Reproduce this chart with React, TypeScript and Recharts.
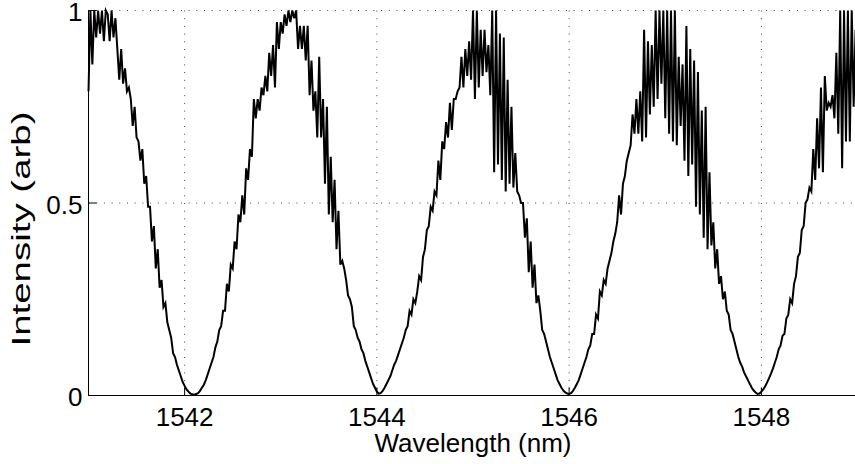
import { LineChart, Line, XAxis, YAxis, CartesianGrid } from "recharts";

// sampled spectrum, one value every 0.02 nm starting at 1541 nm
const WL_START = 1541;
const WL_STEP = 0.02;

const X_TICKS = [1542, 1544, 1546, 1548];
const Y_TICKS = [0, 0.5, 1];

// 1541.00 - 1542.98
const FRINGE_A = [
  0.79, 1.0, 0.86, 1.0, 0.93, 1.0, 0.94, 1.0, 0.92, 1.0, 0.99, 0.92, 1.0, 0.93, 0.98, 0.9,
  0.82, 0.9, 0.81, 0.85, 0.79, 0.8, 0.77, 0.7, 0.75, 0.67, 0.66, 0.61, 0.64, 0.55, 0.57, 0.49,
  0.49, 0.4, 0.44, 0.33, 0.38, 0.28, 0.3, 0.23, 0.24, 0.19, 0.17,
  0.15, 0.11, 0.1, 0.08, 0.065, 0.05, 0.035, 0.025, 0.016, 0.01, 0.005, 0.003, 0.002, 0.004,
  0.006, 0.012, 0.02, 0.028, 0.04, 0.055, 0.07, 0.085, 0.1, 0.125, 0.14, 0.17, 0.18,
  0.22, 0.22, 0.29, 0.27, 0.34, 0.33, 0.4, 0.38, 0.47, 0.45, 0.52, 0.47, 0.59, 0.56, 0.64,
  0.62, 0.77, 0.72, 0.77, 0.74, 0.8, 0.78, 0.83, 0.79, 0.89, 0.83, 0.91, 0.8, 0.97, 0.9,
];

// 1543.00 - 1544.98
const FRINGE_B = [
  0.97, 0.94, 0.99, 0.96, 1.0, 0.97, 1.0, 0.98, 1.0, 0.9, 0.96, 0.9, 0.96, 0.87, 0.96, 0.78,
  0.87, 0.74, 0.79, 0.67, 0.88, 0.67, 0.77, 0.55, 0.75, 0.47, 0.62, 0.45, 0.56, 0.38, 0.48,
  0.34, 0.35, 0.33, 0.3, 0.26, 0.25, 0.23,
  0.18, 0.17, 0.15, 0.14, 0.12, 0.11, 0.09, 0.075, 0.06, 0.045, 0.03, 0.02, 0.01, 0.005,
  0.006, 0.012, 0.02, 0.03, 0.04, 0.05, 0.065, 0.08, 0.09, 0.105, 0.12, 0.135, 0.15, 0.17,
  0.18, 0.22, 0.21, 0.25, 0.24,
  0.27, 0.31, 0.3, 0.36, 0.38, 0.43, 0.44, 0.49, 0.48, 0.53, 0.52, 0.61, 0.56, 0.66, 0.64,
  0.71, 0.67, 0.76, 0.69, 0.77, 0.77, 0.79, 0.8, 0.88, 0.8, 0.9, 0.83, 0.92, 0.82,
];

// 1545.00 - 1546.98
const FRINGE_C = [
  1.0, 0.77, 1.0, 0.8, 0.95, 0.83, 0.95, 0.84, 0.91, 0.78, 1.0, 0.58, 1.0, 0.6, 0.94, 0.56,
  0.93, 0.53, 0.82, 0.55, 0.75, 0.54, 0.63, 0.53, 0.52, 0.5, 0.5, 0.41, 0.46, 0.32, 0.4,
  0.28, 0.34, 0.24, 0.26, 0.22,
  0.17, 0.16, 0.14, 0.12, 0.1, 0.085, 0.07, 0.055, 0.04, 0.03, 0.02, 0.013, 0.008, 0.005,
  0.004, 0.006, 0.012, 0.02, 0.03, 0.04, 0.055, 0.07, 0.085, 0.1, 0.12, 0.13, 0.16, 0.16,
  0.21, 0.2,
  0.27, 0.26, 0.3, 0.29, 0.33, 0.35, 0.37, 0.4, 0.42, 0.45, 0.52, 0.47, 0.55, 0.57, 0.61,
  0.63, 0.65, 0.73, 0.68, 0.77, 0.68, 0.79, 0.66, 0.95, 0.67, 0.92, 0.73, 0.91, 0.75, 1.0,
  0.77, 1.0, 0.81, 1.0,
];

// 1547.00 - 1549.00
const FRINGE_D = [
  0.72, 1.0, 0.68, 1.0, 0.66, 1.0, 0.65, 0.88, 0.7, 0.86, 0.61, 0.96, 0.57, 0.9, 0.6, 0.87,
  0.49, 0.84, 0.47, 0.74, 0.41, 0.75, 0.38, 0.58, 0.39, 0.45, 0.33, 0.38, 0.29, 0.31, 0.25,
  0.27, 0.22, 0.21,
  0.17, 0.16, 0.14, 0.12, 0.1, 0.085, 0.075, 0.06, 0.05, 0.04, 0.03, 0.02, 0.013, 0.008,
  0.004, 0.005, 0.01, 0.016, 0.024, 0.034, 0.045, 0.057, 0.07, 0.085, 0.1, 0.12, 0.13,
  0.155, 0.16, 0.2, 0.21, 0.25, 0.24,
  0.29, 0.31, 0.36, 0.37, 0.43, 0.44, 0.5, 0.51, 0.54, 0.53, 0.64, 0.56, 0.72, 0.59, 0.8,
  0.58, 0.83, 0.74, 0.76, 0.75, 0.78, 0.72, 0.89, 0.68, 1.0, 0.59, 1.0, 0.66, 1.0, 0.66,
  1.0, 0.75, 0.95, 0.8,
];

const data = [...FRINGE_A, ...FRINGE_B, ...FRINGE_C, ...FRINGE_D].map((v, i) => ({
  wl: Number((WL_START + i * WL_STEP).toFixed(2)),
  intensity: v,
}));

const FONT = '"Liberation Sans", Arial, Helvetica, sans-serif';
const TICK_LEN = 8;

const BottomTick = ({ x, y, payload }: any) => (
  <g>
    <line x1={x} y1={y} x2={x} y2={y - TICK_LEN} stroke="#000" />
    <text x={x} y={y + 30.5} textAnchor="middle" fontSize={26} fontFamily={FONT} fill="#000">
      {payload.value}
    </text>
  </g>
);

const TopTick = ({ x, y }: any) => <line x1={x} y1={y} x2={x} y2={y + TICK_LEN} stroke="#000" />;

const LeftTick = ({ x, y, payload }: any) => (
  <g>
    <line x1={x} y1={y} x2={x + TICK_LEN} y2={y} stroke="#000" />
    <text x={x - 6} y={y + 10.5} textAnchor="end" fontSize={26} fontFamily={FONT} fill="#000">
      {payload.value}
    </text>
  </g>
);

const RightTick = ({ x, y }: any) => <line x1={x} y1={y} x2={x - TICK_LEN} y2={y} stroke="#000" />;

const XTitle = ({ viewBox }: any) => (
  <text
    x={viewBox.x + viewBox.width / 2}
    y={viewBox.y + 56.5}
    textAnchor="middle"
    fontSize={26}
    fontFamily={FONT}
    fill="#000"
  >
    Wavelength (nm)
  </text>
);

const YTitle = ({ viewBox }: any) => {
  const cx = 30;
  const cy = viewBox.y + viewBox.height / 2 + 26;
  return (
    <text
      x={cx}
      y={cy}
      transform={`rotate(-90 ${cx} ${cy})`}
      textAnchor="middle"
      fontSize={26}
      fontFamily={FONT}
      fill="#000"
      textLength={235}
      lengthAdjust="spacingAndGlyphs"
    >
      Intensity (arb)
    </text>
  );
};

export default function App() {
  return (
    <div style={{ position: "absolute", left: 0, top: 0, width: 855, height: 464, overflow: "hidden", background: "#fff" }}>
      <LineChart width={872} height={464} data={data} margin={{ top: 10.5, right: 14.5, bottom: 0, left: 0 }}>
        <CartesianGrid stroke="#444" strokeDasharray="1 6.7" />
        <XAxis
          dataKey="wl"
          type="number"
          domain={[1541, 1549]}
          ticks={X_TICKS}
          height={68.5}
          tickSize={0}
          tickMargin={0}
          tick={(p: any) => <BottomTick {...p} />}
          axisLine={{ stroke: "#000" }}
          tickLine={false}
          label={{ content: (p: any) => <XTitle {...p} /> }}
        />
        <XAxis
          xAxisId="top"
          orientation="top"
          dataKey="wl"
          type="number"
          domain={[1541, 1549]}
          ticks={X_TICKS}
          height={0}
          tickSize={0}
          tickMargin={0}
          tick={(p: any) => <TopTick {...p} />}
          axisLine={{ stroke: "#000" }}
          tickLine={false}
        />
        <YAxis
          type="number"
          domain={[0, 1]}
          ticks={Y_TICKS}
          width={88.5}
          tickSize={0}
          tickMargin={0}
          tick={(p: any) => <LeftTick {...p} />}
          axisLine={{ stroke: "#000" }}
          tickLine={false}
          label={{ content: (p: any) => <YTitle {...p} /> }}
        />
        <YAxis
          yAxisId="right"
          orientation="right"
          type="number"
          domain={[0, 1]}
          ticks={Y_TICKS}
          width={0}
          tickSize={0}
          tickMargin={0}
          tick={(p: any) => <RightTick {...p} />}
          axisLine={{ stroke: "#000" }}
          tickLine={false}
        />
        <Line
          type="linear"
          dataKey="intensity"
          stroke="#000"
          strokeWidth={2}
          dot={false}
          isAnimationActive={false}
        />
      </LineChart>
    </div>
  );
}
